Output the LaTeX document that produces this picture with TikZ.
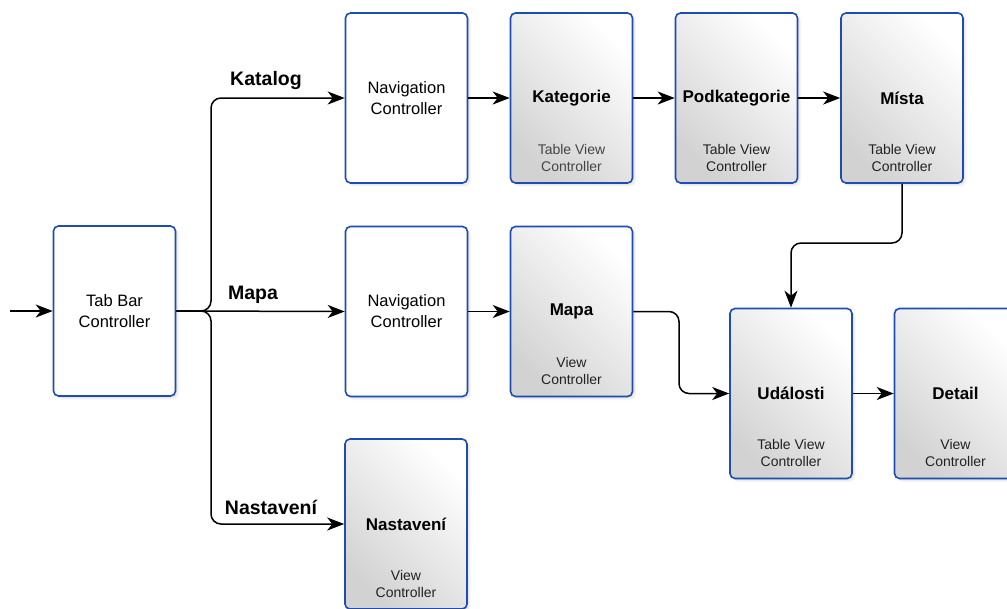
\documentclass[tikz,border=0pt]{standalone}
\usepackage{fontspec}
\setmainfont{Liberation Sans}
\usetikzlibrary{arrows.meta,shadows}
\definecolor{boxblue}{HTML}{1E4CB0}
\definecolor{shadegray}{HTML}{D2D2D2}
\definecolor{subtext}{HTML}{222222}
\definecolor{subtextlight}{HTML}{444444}

\begin{document}
\begin{tikzpicture}[x=1pt,y=1pt,
  softshadow/.style={
    drop shadow={opacity=0.07, shadow xshift=1.5pt, shadow yshift=-1.5pt},
    drop shadow={opacity=0.07, shadow xshift=2.5pt, shadow yshift=-2.5pt},
    drop shadow={opacity=0.07, shadow xshift=3.5pt, shadow yshift=-3.5pt}},
  box/.style={draw=boxblue, line width=1.6pt, rounded corners=5pt,
    minimum width=122pt, minimum height=170pt, inner sep=0pt, softshadow},
  plainbox/.style={box, fill=white},
  viewbox/.style={box, top color=white, bottom color=shadegray, shading angle=-45},
  maintext/.style={font=\fontsize{16.5}{21}\selectfont, align=center},
  titletext/.style={font=\fontsize{17}{20}\selectfont\bfseries, inner sep=0pt},
  subtitle/.style={font=\fontsize{14}{17}\selectfont, align=center, text=subtext, inner sep=0pt},
  edgelabel/.style={font=\fontsize{19.5}{22}\selectfont\bfseries, inner sep=0pt},
  conn/.style={draw=black, line width=1.5pt, rounded corners=10pt,
    -{Stealth[length=17pt, width=13pt, inset=5pt]}}
]
\useasboundingbox (0,0) rectangle (1007,-608);

% controllers without a subtitle
\node[plainbox, maintext] (tab)  at (114.5,-311)   {Tab Bar\\Controller};
\node[plainbox, maintext] (nav1) at (406.5,-98)    {Navigation\\Controller};
\node[plainbox, maintext] (nav2) at (406.5,-311.5) {Navigation\\Controller};

% view controllers: shaded box, bold title, subtitle below
\node[viewbox] (kat)   at (571.5,-98)    {};
\node[viewbox] (pod)   at (736.5,-98)    {};
\node[viewbox] (mista) at (902,-98)      {};
\node[viewbox] (mapa)  at (571.5,-311.5) {};
\node[viewbox] (udal)  at (791,-393.5)   {};
\node[viewbox] (det)   at (955.5,-393.5) {};
\node[viewbox] (nast)  at (406,-524)     {};

\node[titletext] (kat-t)   at (kat)   {Kategorie};
\node[titletext] (pod-t)   at (pod)   {Podkategorie};
\node[titletext] (mista-t) at (mista) {Místa};
\node[titletext] (mapa-t)  at (mapa)  {Mapa};
\node[titletext] (udal-t)  at (udal)  {Události};
\node[titletext] (det-t)   at (det)   {Detail};
\node[titletext] (nast-t)  at (nast)  {Nastavení};

\node[subtitle, text=subtextlight] (kat-s) at ([yshift=-59.5pt]kat.center) {Table View\\Controller};
\node[subtitle] (pod-s)   at ([yshift=-59.5pt]pod.center)   {Table View\\Controller};
\node[subtitle] (mista-s) at ([yshift=-59.5pt]mista.center) {Table View\\Controller};
\node[subtitle] (mapa-s)  at ([yshift=-59.5pt]mapa.center)  {View\\Controller};
\node[subtitle] (udal-s)  at ([yshift=-59.5pt]udal.center)  {Table View\\Controller};
\node[subtitle] (det-s)   at ([yshift=-59.5pt]det.center)   {View\\Controller};
\node[subtitle] (nast-s)  at ([yshift=-59.5pt]nast.center)  {View\\Controller};

% bend points of the connectors
\coordinate (entry)  at (10,-311);
\coordinate (split)  at (211,-311);
\coordinate (mapbend) at (679,-311.5);
\coordinate (mistabend) at (902,-243);

% connectors
\draw[conn] (entry) -- (tab.west);
\draw[conn] (tab.east) -- (split) |- (nav1.west);
\draw[conn] (tab.east) -- (nav2.west);
\draw[conn] (tab.east) -- (split) |- (nast.west);
\draw[conn] (nav1.east) -- (kat.west);
\draw[conn] (kat.east) -- (pod.west);
\draw[conn] (pod.east) -- (mista.west);
\draw[conn] (nav2.east) -- (mapa.west);
\draw[conn] (mapa.east) -- (mapbend) |- (udal.west);
\draw[conn] (mista.south) -- (mistabend) -| (udal.north);
\draw[conn] (udal.east) -- (det.west);

% tab labels
\node[edgelabel] (lab-kat)  at (266,-80)  {Katalog};
\node[edgelabel] (lab-mapa) at (253,-295) {Mapa};
\node[edgelabel] (lab-nast) at (271,-507) {Nastavení};
\end{tikzpicture}
\end{document}
